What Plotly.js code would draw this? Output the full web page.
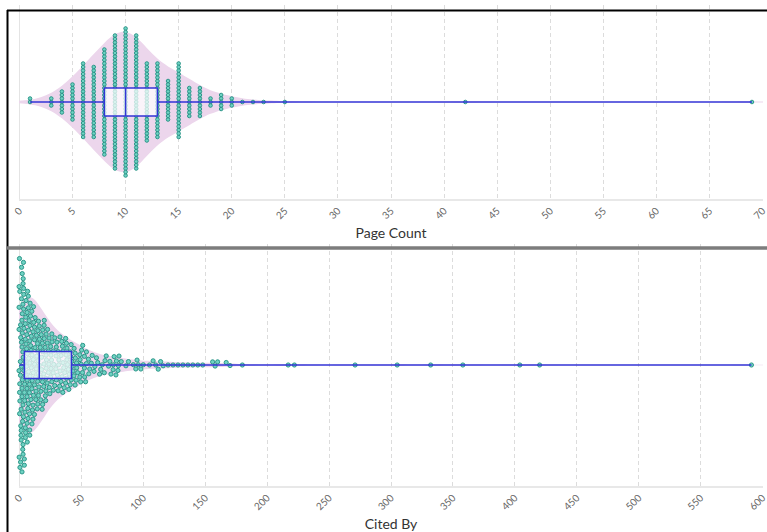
<!DOCTYPE html>
<html>
<head>
<meta charset="utf-8">
<script src="https://cdn.plot.ly/plotly-3.0.1.min.js"></script>
<style>
html,body{margin:0;padding:0;background:#fff;}
#chart{width:767px;height:532px;}
</style>
</head>
<body>
<div id="chart"></div>
<script>
// ---------------- DATA ----------------
// Page Count: distinct values and how many papers have each
const pageCountValues = [1,3,4,5,6,7,8,9,10,11,12,13,14,15,16,17,18,19,20,21,22,23,25,42,69];
const pageCountFreq   = [2,3,7,11,22,21,31,39,43,39,23,22,12,22,9,9,3,5,3,1,1,1,1,1,1];

// Cited By: common values 0..54 with frequencies
const citedByValues = [0,1,2,3,4,5,6,7,8,9,10,11,12,13,14,15,16,17,18,19,20,21,22,23,24,25,26,27,28,29,30,
                       31,32,33,34,35,36,37,38,39,40,41,42,43,44,45,46,47,48,49,50,51,52,53,54];
const citedByFreq   = [26,20,17,15,13,11,10,10,9,8,8,7,6,6,5,5,5,5,5,5,5,5,5,3,3,3,3,3,3,3,3,
                       3,3,3,3,3,3,3,3,3,3,3,3,2,2,2,2,2,2,2,2,2,2,2,2];
// Cited By: sparse tail, one paper each
const citedByTail = [55,56,57,58,59,60,61,62,63,65,66,67,68,69,70,72,73,74,76,76,77,78,78,79,80,80,82,
                     86,88,92,94,95,96,98,100,105,108,110,112,114,116,120,124,128,132,136,140,144,148,
                     156,158,160,167,170,180,217,222,271,305,332,358,404,420,591];

// Tick labels
const pageTicks  = [0,5,10,15,20,25,30,35,40,45,50,55,60,65,70];
const citedTicks = [0,50,100,150,200,250,300,350,400,450,500,550,600];

// ---------------- BUILD ----------------
function expand(vals, freq){
  const out = [];
  vals.forEach((v,i)=>{ for(let k=0;k<freq[i];k++) out.push(v); });
  return out;
}
const pageCount = expand(pageCountValues, pageCountFreq);
const citedBy   = expand(citedByValues, citedByFreq).concat(citedByTail);

const W = 767, H = 532, ML = 19, MR = 4;
const plotW = W - ML - MR;
const top1 = 5,   bot1 = 199;   // panel 1 pixel extent
const top2 = 244, bot2 = 486;   // panel 2 pixel extent
const h1 = bot1 - top1, h2 = bot2 - top2;
const pad1 = 0.04, pad2 = 0.35;
const span1 = 70 + 2*pad1, span2 = 600 + 2*pad2;

// beeswarm (dodge) layout in px; points placed in a deterministic mixed order
function dodge(vals, kx, d){
  const g = 0.6180339887498949;
  const key = i => (i * g) % 1;
  const order = vals.map((v,i)=>i).sort((a,b)=>key(a)-key(b));
  const placed = [];
  const ys = new Array(vals.length);
  for (const i of order){
    const x = vals[i] * kx;
    const near = placed.filter(p => Math.abs(p.x - x) < d);
    const cands = [0];
    near.forEach(p => { const dy = Math.sqrt(d*d - (p.x-x)*(p.x-x)); cands.push(p.y + dy, p.y - dy); });
    cands.sort((a,b)=>Math.abs(a)-Math.abs(b));
    let y = 0;
    for (const c of cands){
      if (near.every(p => (p.x-x)*(p.x-x) + (p.y-c)*(p.y-c) >= d*d - 1e-6)) { y = c; break; }
    }
    placed.push({x, y});
    ys[i] = y;
  }
  return ys;
}
// exact-x stacked swarm (used for the integer page counts)
function swarmExact(vals, span, pxH, d){
  const kx = plotW / span, ky = pxH / 2;
  return {x: vals.slice(), y: dodge(vals, kx, d).map(y => y / ky)};
}
// force-relaxed swarm (collision + weak pull to centre line + spring to true x)
function swarmForce(vals, span, pxH, d, iters, sx, sy, passes){
  const kx = plotW / span, ky = pxH / 2;
  const n = vals.length;
  const x0 = vals.map(v => v * kx);
  const x = x0.slice(), y = dodge(vals, kx, d);
  const idx = [...Array(n).keys()];
  for (let it = 0; it < iters; it++){
    for (let i = 0; i < n; i++){ x[i] += (x0[i] - x[i]) * sx; y[i] -= y[i] * sy; }
    for (let pass = 0; pass < passes; pass++){
      idx.sort((a,b) => x[a] - x[b]);
      for (let a = 0; a < n; a++){
        const i = idx[a];
        for (let b = a + 1; b < n; b++){
          const j = idx[b];
          const dx = x[j] - x[i];
          if (dx >= d) break;
          const dy = y[j] - y[i];
          const d2 = dx*dx + dy*dy;
          if (d2 < d*d){
            let dist = Math.sqrt(d2), ux, uy;
            if (dist < 1e-6){ ux = 0; uy = 1; dist = 0; } else { ux = dx/dist; uy = dy/dist; }
            const m = (d - dist) * 0.5;
            x[i] -= ux*m; y[i] -= uy*m; x[j] += ux*m; y[j] += uy*m;
          }
        }
      }
    }
  }
  return {x: x.map((px,i) => vals[i] + (px - x0[i]) / kx), y: y.map(py => py / ky)};
}

const pageSw  = swarmExact(pageCount, span1, h1, 3.5);
const citedSw = swarmForce(citedBy, span2, h2, 4.9, 220, 0.07, 0.0022, 5);

const violinFill = '#ecd6ec';
const dotFill = '#6fd2c3';
const dotLine = '#1f8e80';
const boxBlue = '#3434d6';

function panel(xs, sw, xa, ya, yaBox, pxH, violinHalfPx, boxPx, bw, dotSize){
  const unit = pxH / 2;
  const v = {
    type:'violin', orientation:'h', x: xs, y0: 0, xaxis: xa, yaxis: ya,
    fillcolor: violinFill, line:{width:0, color:'rgba(0,0,0,0)'},
    points:false, box:{visible:false}, meanline:{visible:false},
    width: 2*violinHalfPx/unit, scalemode:'width', spanmode:'soft',
    bandwidth: bw, hoverinfo:'skip'
  };
  const s = {
    type:'scatter', mode:'markers', x: sw.x, y: sw.y, xaxis: xa, yaxis: ya,
    marker:{size:dotSize, color:dotFill, line:{color:dotLine, width:0.9}},
    cliponaxis:false, hoverinfo:'skip'
  };
  const b = {
    type:'box', orientation:'h', x: xs, y0: 0, xaxis: xa, yaxis: yaBox,
    width: boxPx/unit, boxpoints:false, whiskerwidth:0,
    fillcolor:'rgba(255,255,255,0.72)', line:{color:boxBlue, width:1.5},
    hoverinfo:'skip'
  };
  return [v, s, b];
}

const data = [].concat(
  panel(pageCount, pageSw, 'x', 'y', 'y3', h1, 70, 28, 1.5, 3.6),
  panel(citedBy, citedSw, 'x2', 'y2', 'y4', h2, 68, 27, 11, 4.2)
);

function xAxis(anchor, pad, maxV, ticks, title){
  return {
    anchor: anchor, domain:[0,1], range:[-pad, maxV + pad],
    tickmode:'array', tickvals: ticks, ticktext: ticks.map(String),
    tickangle:-45, tickfont:{size:10, color:'#666', family:'Lato, sans-serif'},
    ticklabeloverflow:'allow',
    ticks:'', showgrid:true, gridcolor:'#dcdcdc', griddash:'4px,3px', gridwidth:1,
    zeroline:true, zerolinecolor:'#e4e4e4', zerolinewidth:1.5,
    showline:true, linecolor:'#e8e8e8', linewidth:2,
    automargin:false, fixedrange:true,
    title:{text:title, font:{size:14, color:'#333', family:'Lato, sans-serif'}, standoff:8}
  };
}
function yAxis(anchor, top, bot){
  return {anchor:anchor, domain:[1-bot/H, 1-top/H], range:[-1,1], visible:false, fixedrange:true};
}
function yOver(base, anchor){
  return {overlaying:base, anchor:anchor, range:[-1,1], visible:false, fixedrange:true};
}
const px2x = px => (px - ML) / plotW;
const px2y = py => 1 - py / H;

const layout = {
  width: W, height: H,
  margin:{l:ML, r:MR, t:0, b:0},
  paper_bgcolor:'#fff', plot_bgcolor:'#fff',
  showlegend:false,
  font:{family:'Lato, sans-serif'},
  violinmode:'overlay', boxmode:'overlay',
  xaxis: xAxis('y', pad1, 70, pageTicks, 'Page Count'),
  yaxis: yAxis('x', top1, bot1),
  xaxis2: xAxis('y2', pad2, 600, citedTicks, 'Cited By'),
  yaxis2: yAxis('x2', top2, bot2),
  yaxis3: yOver('y', 'x'),
  yaxis4: yOver('y2', 'x2'),
  shapes:[
    {type:'line', xref:'paper', yref:'paper', x0:px2x(7.5), x1:px2x(7.5), y0:px2y(532), y1:px2y(10), line:{color:'#000', width:2}},
    {type:'line', xref:'paper', yref:'paper', x0:px2x(7), x1:px2x(767), y0:px2y(10.5), y1:px2y(10.5), line:{color:'#000', width:2}},
    {type:'line', xref:'paper', yref:'paper', x0:px2x(7), x1:px2x(767), y0:px2y(248), y1:px2y(248), line:{color:'#7d7d7d', width:3.5}}
  ]
};

Plotly.newPlot('chart', data, layout, {displayModeBar:false, staticPlot:true});
</script>
</body>
</html>
